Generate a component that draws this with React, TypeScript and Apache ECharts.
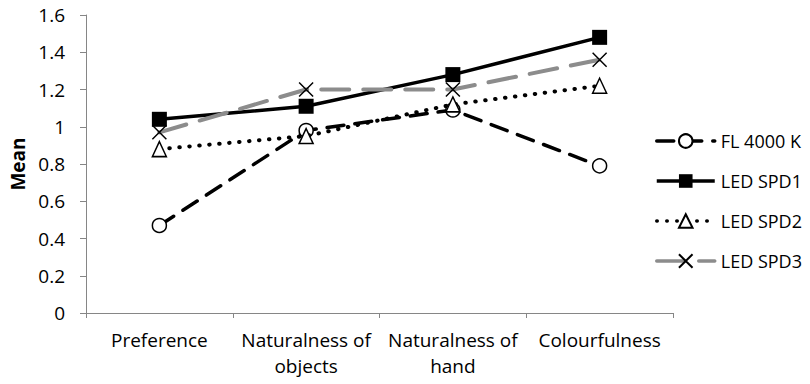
import React, { useEffect, useRef } from "react";
import * as echarts from "echarts";

// Rating categories on the x axis
const categories = [
  "Preference",
  "Naturalness of objects",
  "Naturalness of hand",
  "Colourfulness",
];

// Mean ratings per light source
const fl4000K = [0.47, 0.98, 1.09, 0.79];
const ledSpd1 = [1.04, 1.11, 1.28, 1.48];
const ledSpd2 = [0.88, 0.95, 1.12, 1.22];
const ledSpd3 = [0.97, 1.2, 1.2, 1.36];

const seriesNames = ["FL 4000 K", "LED SPD1", "LED SPD2", "LED SPD3"];

const FONT = "'Open Sans', 'Noto Sans', sans-serif";
const AXIS_GRAY = "#868686";
const CROSS = "path://M0,0L10,10M10,0L0,10";

export default function App() {
  const ref = useRef<HTMLDivElement>(null);

  useEffect(() => {
    if (!ref.current) return;
    const chart = echarts.init(ref.current, undefined, { renderer: "svg" });

    chart.setOption({
      animation: false,
      backgroundColor: "#ffffff",
      textStyle: { fontFamily: FONT, color: "#000" },
      grid: { left: 86, right: 137, top: 15, bottom: 71, containLabel: false },
      legend: {
        orient: "vertical",
        left: 650,
        top: 124,
        itemWidth: 58,
        itemHeight: 17,
        itemGap: 16,
        data: seriesNames,
        lineStyle: { width: 3.5 },
        textStyle: {
          fontFamily: FONT,
          fontSize: 18,
          color: "#000",
          lineHeight: 24,
          padding: [0, 0, 0, 1],
        },
      },
      xAxis: {
        type: "category",
        data: categories,
        boundaryGap: true,
        axisLine: { lineStyle: { color: AXIS_GRAY, width: 1 } },
        axisTick: { show: true, length: 5, lineStyle: { color: AXIS_GRAY } },
        axisLabel: {
          interval: 0,
          margin: 14,
          fontFamily: FONT,
          fontSize: 19,
          lineHeight: 26,
          color: "#000",
          formatter: (v: string) => v.replace(" of ", " of\n"),
        },
        splitLine: { show: false },
      },
      yAxis: {
        type: "value",
        min: 0,
        max: 1.6,
        interval: 0.2,
        name: "Mean",
        nameLocation: "middle",
        nameGap: 56,
        nameTextStyle: {
          fontFamily: FONT,
          fontSize: 19,
          fontWeight: "bold",
          color: "#000",
        },
        axisLine: { show: true, lineStyle: { color: AXIS_GRAY, width: 1 } },
        axisTick: { show: true, length: 6, lineStyle: { color: AXIS_GRAY } },
        axisLabel: {
          margin: 21,
          fontFamily: FONT,
          fontSize: 19,
          color: "#000",
          formatter: (v: number) => String(Math.round(v * 10) / 10),
        },
        splitLine: { show: false },
      },
      series: [
        {
          name: seriesNames[0],
          type: "line",
          data: fl4000K,
          symbol: "circle",
          symbolSize: 14,
          lineStyle: { color: "#000", width: 3.5, type: [17, 11], cap: "round" },
          itemStyle: { color: "#fff", borderColor: "#000", borderWidth: 1.5 },
          z: 2,
        },
        {
          name: seriesNames[1],
          type: "line",
          data: ledSpd1,
          symbol: "rect",
          symbolSize: 15,
          lineStyle: { color: "#000", width: 3.5, type: "solid" },
          itemStyle: { color: "#000", borderColor: "#000", borderWidth: 0 },
          z: 3,
        },
        {
          name: seriesNames[2],
          type: "line",
          data: ledSpd2,
          symbol: "triangle",
          symbolSize: [14, 15],
          lineStyle: { color: "#000", width: 4, type: [0.5, 9.5], cap: "round" },
          itemStyle: { color: "#fff", borderColor: "#000", borderWidth: 1.5 },
          z: 4,
        },
        {
          name: seriesNames[3],
          type: "line",
          data: ledSpd3,
          symbol: CROSS,
          symbolSize: 14,
          lineStyle: { color: "#8c8c8c", width: 4, type: [28, 14], cap: "round" },
          itemStyle: { color: "none", borderColor: "#000", borderWidth: 1.5 },
          z: 5,
        },
      ],
    });

    return () => chart.dispose();
  }, []);

  return (
    <div
      ref={ref}
      style={{ position: "fixed", left: 0, top: 0, width: 810, height: 384 }}
    />
  );
}
